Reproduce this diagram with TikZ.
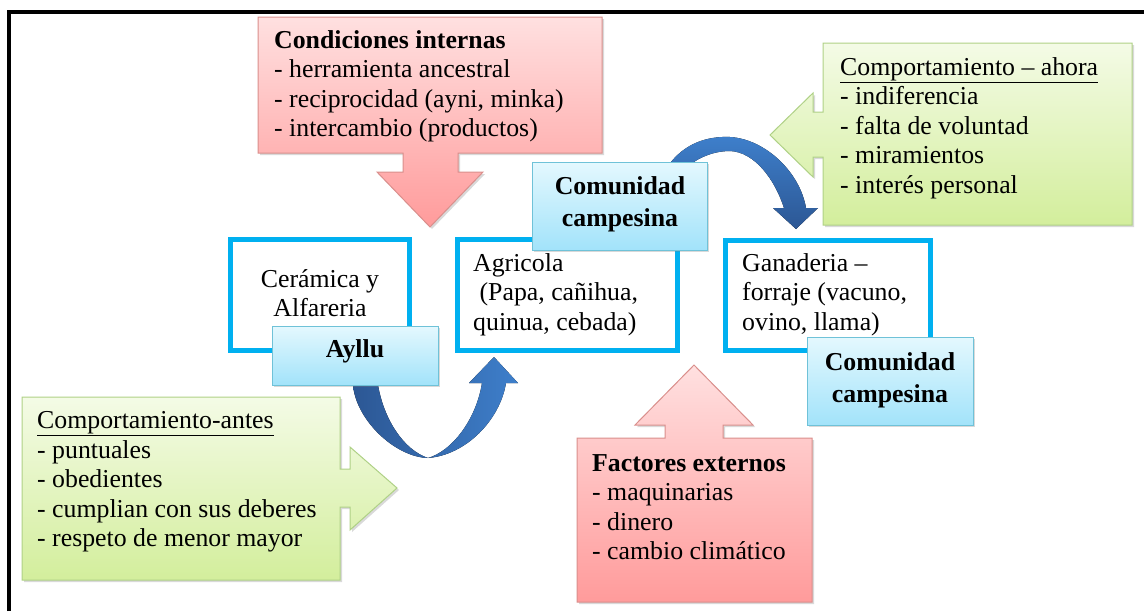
\documentclass[tikz,border=0pt]{standalone}
\usepackage{fontspec}
\setmainfont{Liberation Serif}
\usetikzlibrary{shadows}

\definecolor{redtop}{HTML}{FFE0E0}
\definecolor{redbot}{HTML}{FF9B9B}
\definecolor{redline}{HTML}{D98F8C}
\definecolor{greentop}{HTML}{F4FBE6}
\definecolor{greenbot}{HTML}{D3EE9C}
\definecolor{greenline}{HTML}{AFD186}
\definecolor{skytop}{HTML}{E4F8FE}
\definecolor{skybot}{HTML}{A2E3FA}
\definecolor{skyline}{HTML}{6FC2D8}
\definecolor{frameblue}{HTML}{00B0F0}
\definecolor{arrowdark}{HTML}{2C5794}
\definecolor{arrowlight}{HTML}{3E7FCB}

\newcommand\calfont{\fontsize{25.8}{29.5}\selectfont}
\newcommand\labfont{\fontsize{25.8}{32.5}\selectfont\bfseries}

\tikzset{
  calltext/.style={font=\calfont,align=left,anchor=north west,inner sep=0pt,
    execute at begin node=\strut},
  midtext/.style={calltext,align=center,anchor=north},
  labtext/.style={font=\labfont,align=center,anchor=north,inner sep=0pt,
    execute at begin node=\strut},
  softshadow/.style={drop shadow={shadow xshift=2pt,shadow yshift=-2pt,opacity=.3}},
  redcall/.style={draw=redline,line width=1pt,top color=redtop,bottom color=redbot,softshadow},
  greencall/.style={draw=greenline,line width=1pt,top color=greentop,bottom color=greenbot,softshadow},
  skylabel/.style={draw=skyline,line width=1pt,top color=skytop,bottom color=skybot,softshadow},
  activity/.style={draw=frameblue,line width=5pt,fill=white}
}

\begin{document}
\begin{tikzpicture}[x=1pt,y=-1pt]
\useasboundingbox (0,0) rectangle (1144,611);

% Outer frame (only top and left show)
\draw[line width=4pt] (9,611) -- (9,12) -- (1144,12);

% Condiciones internas, pointing down
\draw[redcall] (258,17) -- (602,17) -- (602,153) -- (458,153) -- (458,172)
   -- (483,172) -- (430,227) -- (377,172) -- (403,172) -- (403,153)
   -- (258,153) -- cycle;
\node[calltext] (intern) at (274,30.35)
   {\textbf{Condiciones internas}\\- herramienta ancestral\\
    - reciprocidad (ayni, minka)\\- intercambio (productos)};

% Comportamiento ahora, pointing left
\draw[greencall] (823,43) -- (1132,43) -- (1132,225) -- (823,225) -- (823,157)
   -- (813,157) -- (813,177) -- (770,135) -- (813,93) -- (813,112)
   -- (823,112) -- cycle;
\node[calltext] (ahora) at (840,57.35)
   {\underline{Comportamiento – ahora}\\- indiferencia\\- falta de voluntad\\
    - miramientos\\- interés personal};

% Comportamiento antes, pointing right
\draw[greencall] (22,397) -- (340,397) -- (340,469) -- (350,469) -- (350,447)
   -- (397,488) -- (350,530) -- (350,507) -- (340,507) -- (340,580)
   -- (22,580) -- cycle;
\node[calltext] (antes) at (37,411.35)
   {\underline{Comportamiento-antes}\\- puntuales\\- obedientes\\
    - cumplian con sus deberes\\- respeto de menor mayor};

% Factores externos, pointing up
\draw[redcall] (577,438) -- (665,438) -- (665,425) -- (635,425) -- (694,365)
   -- (753,425) -- (723,425) -- (723,438) -- (812,438) -- (812,602)
   -- (577,602) -- cycle;
\node[calltext] (extern) at (592,454.35)
   {\textbf{Factores externos}\\- maquinarias\\- dinero\\- cambio climático};

% Bent arrow from the community to the cattle
\fill[top color=arrowlight,bottom color=arrowdark]
   (668,166) .. controls (684,143) and (708,136) .. (730,137)
   .. controls (765,139) and (800,172) .. (806,208) -- (818,208)
   -- (796,229) -- (773,208) -- (784,208)
   .. controls (775,180) and (755,152) .. (730,151)
   .. controls (712,151) and (694,159) .. (682,172) -- cycle;

% Bent arrow from the ayllu to agriculture
\fill[left color=arrowdark,right color=arrowlight]
   (353,385) .. controls (356,420) and (395,457) .. (428,458)
   .. controls (466,455) and (500,420) .. (506,383) -- (518,383)
   -- (494,357) -- (469,383) -- (482,383)
   .. controls (476,420) and (452,451) .. (428,458)
   .. controls (404,450) and (384,420) .. (378,385) -- cycle;

% Activities
\draw[activity] (230.5,239.5) rectangle (409.5,350.5);
\node[midtext] (ceram) at (320,269.35) {Cerámica y\\Alfareria};

\draw[activity] (457.5,239.5) rectangle (677.5,350.5);
\node[calltext] (agri) at (473,253.35)
   {Agricola\\\ (Papa, cañihua,\\quinua, cebada)};

\draw[activity] (725.5,240.5) rectangle (930.5,350.5);
\node[calltext] (ganad) at (742,253.35)
   {Ganaderia –\\forraje (vacuno,\\ovino, llama)};

% Organisation labels
\draw[skylabel] (272,326) rectangle (438,385);
\node[labtext] (ayllu) at (355,334.25) {Ayllu};

\draw[skylabel] (532,162) rectangle (707,250);
\node[labtext] (comun) at (620,176.25) {Comunidad\\campesina};

\draw[skylabel] (807,337) rectangle (973,425);
\node[labtext] (comunb) at (890,352.25) {Comunidad\\campesina};
\end{tikzpicture}
\end{document}
